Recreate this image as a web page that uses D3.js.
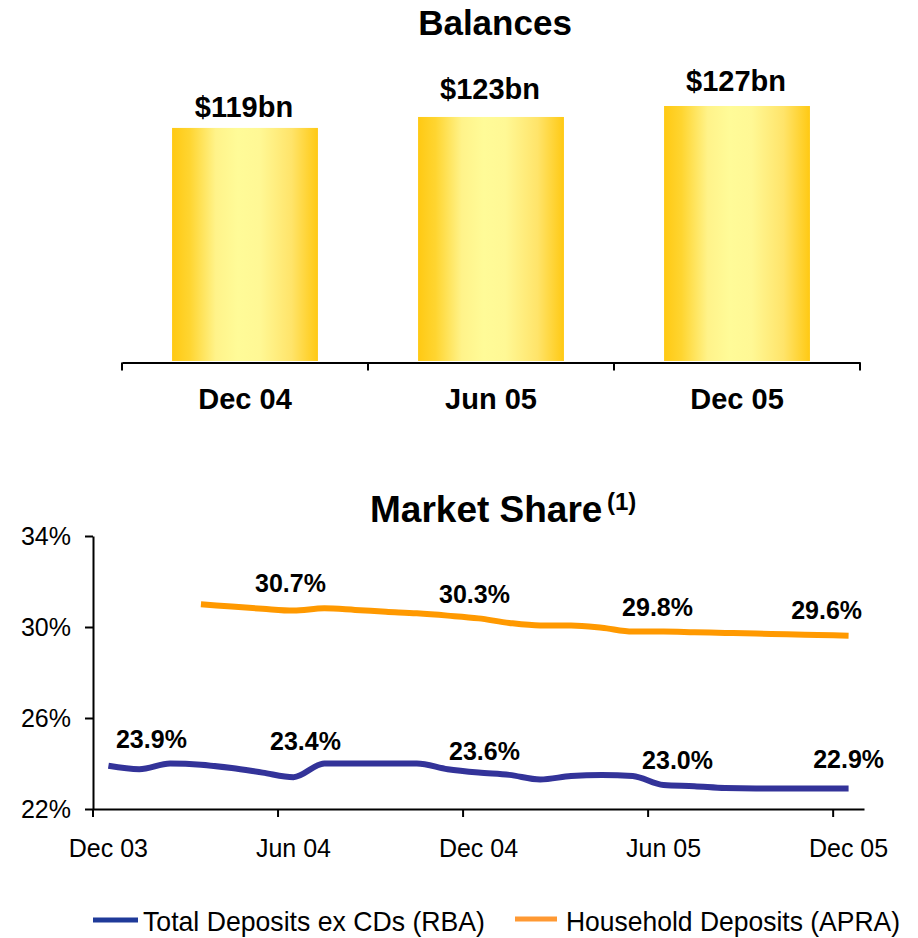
<!DOCTYPE html>
<html><head><meta charset="utf-8">
<script src="https://cdn.jsdelivr.net/npm/d3@7"></script>
<style>
html,body{margin:0;padding:0;background:#fff;}
svg{display:block;font-family:"Liberation Sans",Arial,sans-serif;}
</style></head>
<body>
<svg id="chart" width="918" height="938"></svg>
<script>
// ---------- DATA ----------
const barCategories = ["Dec 04", "Jun 05", "Dec 05"];
const barValues = [119, 123, 127];
const barLabels = ["$119bn", "$123bn", "$127bn"];

const months = ["Dec 03","Jan 04","Feb 04","Mar 04","Apr 04","May 04","Jun 04","Jul 04","Aug 04","Sep 04","Oct 04","Nov 04",
  "Dec 04","Jan 05","Feb 05","Mar 05","Apr 05","May 05","Jun 05","Jul 05","Aug 05","Sep 05","Oct 05","Nov 05","Dec 05"];
const monthTicks = ["Dec 03","Jun 04","Dec 04","Jun 05","Dec 05"];
const totalDeposits = [23.9,23.75,24.0,23.95,23.8,23.6,23.4,24.0,24.0,24.0,24.0,23.75,
  23.6,23.5,23.3,23.45,23.5,23.45,23.05,23.0,22.92,22.9,22.9,22.9,22.9];
const householdDeposits = [null,null,null,31.0,30.9,30.8,30.72,30.82,30.75,30.67,30.6,30.5,
  30.38,30.18,30.07,30.07,29.97,29.8,29.8,29.77,29.74,29.71,29.68,29.65,29.62];
const totalLabels = [["Dec 03","23.9%"],["Jun 04","23.4%"],["Dec 04","23.6%"],["Jun 05","23.0%"],["Dec 05","22.9%"]];
const householdLabels = [["Jun 04","30.7%"],["Dec 04","30.3%"],["Jun 05","29.8%"],["Dec 05","29.6%"]];
const yTicks = [22, 26, 30, 34];
const seriesNames = ["Total Deposits ex CDs (RBA)", "Household Deposits (APRA)"];

// ---------- LAYOUT ----------
const svg = d3.select("#chart");
const BLUE = "#333399", ORANGE = "#FF9900";

// gradient for bars
const defs = svg.append("defs");
const grad = defs.append("linearGradient").attr("id","barGrad").attr("x1","0%").attr("x2","100%").attr("y1","0%").attr("y2","0%");
[[0,"#FFC913"],[0.12,"#FFD530"],[0.3,"#FFF38A"],[0.45,"#FFFB98"],[0.6,"#FFF895"],[0.82,"#FFE46A"],[1,"#FFC913"]]
  .forEach(([o,c]) => grad.append("stop").attr("offset",o).attr("stop-color",c));

// ---- Balances chart ----
svg.append("text").attr("x",495).attr("y",35).attr("text-anchor","middle")
  .attr("font-size",35).attr("font-weight","bold").text("Balances");

const xBar = d3.scaleBand().domain(barCategories).range([122,860]).paddingInner(0).paddingOuter(0);
const yBar = d3.scaleLinear().domain([34, 127]).range([361, 106]);
const barW = xBar.bandwidth()*0.593;

svg.append("g").selectAll("rect").data(barValues).join("rect")
  .attr("x",(d,i)=>xBar(barCategories[i]) + xBar.bandwidth()/2 - barW/2)
  .attr("y",d=>yBar(d)).attr("width",barW).attr("height",d=>yBar(34)-yBar(d))
  .attr("fill","url(#barGrad)");

const barLabelDy = [11, 18, 15];
svg.append("g").selectAll("text").data(barValues).join("text")
  .attr("x",(d,i)=>xBar(barCategories[i]) + xBar.bandwidth()/2 - 1)
  .attr("y",(d,i)=>yBar(d) - barLabelDy[i])
  .attr("text-anchor","middle").attr("font-size",29).attr("font-weight","bold")
  .text((d,i)=>barLabels[i]);

const barAxis = svg.append("g").attr("transform","translate(0,362.5)")
  .call(d3.axisBottom(xBar).tickSize(0).tickPadding(26).tickSizeOuter(0));
barAxis.select(".domain").attr("stroke","#000").attr("stroke-width",2);
barAxis.selectAll("text").attr("font-size",29).attr("font-weight","bold").attr("fill","#000")
  .attr("font-family","Liberation Sans, Arial, sans-serif");
const edges = barCategories.map(c=>xBar(c)).concat([xBar.range()[1]]);
barAxis.selectAll("line.edge").data(edges).join("line").attr("class","edge")
  .attr("x1",d=>d).attr("x2",d=>d).attr("y1",0).attr("y2",8).attr("stroke","#000").attr("stroke-width",2);

// ---- Market Share chart ----
const title2 = svg.append("text").attr("x",370).attr("y",522).attr("text-anchor","start")
  .attr("font-size",37).attr("font-weight","bold");
title2.append("tspan").text("Market Share");
title2.append("tspan").attr("x",607).attr("font-size",24).attr("dy",-12).text("(1)");

const xLine = d3.scaleBand().domain(months).range([93,864]).padding(0);
const yLine = d3.scaleLinear().domain([22,34]).range([809,536]);
const cx = m => xLine(m) + xLine.bandwidth()/2;

const yAx = svg.append("g").attr("transform","translate(93,0)")
  .call(d3.axisLeft(yLine).tickValues(yTicks).tickFormat(d=>d+"%").tickSize(8).tickPadding(14).tickSizeOuter(0));
yAx.select(".domain").attr("stroke","#000").attr("stroke-width",2);
yAx.selectAll(".tick line").attr("stroke","#000").attr("stroke-width",2);
yAx.selectAll("text").attr("font-size",25).attr("fill","#000").attr("font-family","Liberation Sans, Arial, sans-serif");

const xAx = svg.append("g").attr("transform","translate(0,809)")
  .call(d3.axisBottom(xLine).tickValues(monthTicks).tickSize(8).tickPadding(22).tickSizeOuter(0));
xAx.select(".domain").attr("stroke","#000").attr("stroke-width",2);
xAx.selectAll(".tick line").attr("stroke","#000").attr("stroke-width",2)
  .attr("transform",`translate(${-xLine.bandwidth()/2},0)`);
xAx.selectAll("text").attr("font-size",25).attr("fill","#000").attr("font-family","Liberation Sans, Arial, sans-serif");

const line = d3.line().defined(d=>d[1]!=null).x(d=>cx(d[0])).y(d=>yLine(d[1])).curve(d3.curveMonotoneX);
svg.append("path").datum(months.map((m,i)=>[m,householdDeposits[i]]))
  .attr("d",line).attr("fill","none").attr("stroke",ORANGE).attr("stroke-width",6);
svg.append("path").datum(months.map((m,i)=>[m,totalDeposits[i]]))
  .attr("d",line).attr("fill","none").attr("stroke",BLUE).attr("stroke-width",6);

const totalOff = [[43,-18],[12,-27],[6,-13],[14,-16],[0,-21]];
const houseOff = [[-3,-19],[-4,-15],[-6,-16],[-22,-17]];
svg.append("g").selectAll("text").data(totalLabels).join("text")
  .attr("x",(d,i)=>cx(d[0])+totalOff[i][0])
  .attr("y",(d,i)=>yLine(totalDeposits[months.indexOf(d[0])])+totalOff[i][1])
  .attr("text-anchor","middle").attr("font-size",25).attr("font-weight","bold").text(d=>d[1]);
svg.append("g").selectAll("text").data(householdLabels).join("text")
  .attr("x",(d,i)=>cx(d[0])+houseOff[i][0])
  .attr("y",(d,i)=>yLine(householdDeposits[months.indexOf(d[0])])+houseOff[i][1])
  .attr("text-anchor","middle").attr("font-size",25).attr("font-weight","bold").text(d=>d[1]);

// ---- Legend ----
const legend = svg.append("g");
const legendItems = [
  {name:seriesNames[0],color:"#1F3A99",x:93,len:45,tx:143,tl:342,ly:920},
  {name:seriesNames[1],color:"#FF9933",x:515,len:42,tx:566,tl:334,ly:919}];
legendItems.forEach(it=>{
  legend.append("line").attr("x1",it.x).attr("x2",it.x+it.len).attr("y1",it.ly).attr("y2",it.ly)
    .attr("stroke",it.color).attr("stroke-width",5);
  legend.append("text").attr("x",it.tx).attr("y",931).attr("font-size",28)
    .attr("textLength",it.tl).attr("lengthAdjust","spacingAndGlyphs").text(it.name);
});
</script>
</body></html>
